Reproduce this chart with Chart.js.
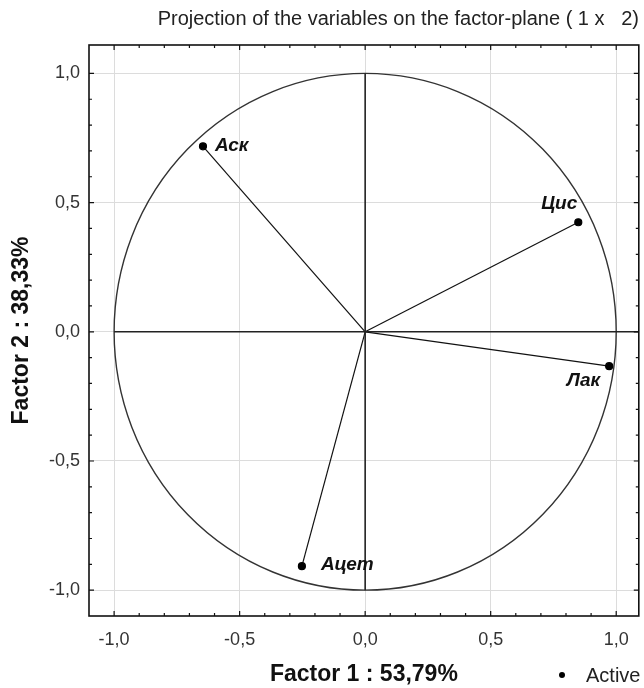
<!DOCTYPE html>
<html>
<head>
<meta charset="utf-8">
<script src="https://cdn.jsdelivr.net/npm/chart.js@4.4.1/dist/chart.umd.min.js"></script>
<style>
  body { margin: 0; background: #fff; }
  #wrap { width: 644px; height: 688px; }
</style>
</head>
<body>
<div id="wrap"><canvas id="plane"></canvas></div>
<script>
// variables projected on the factor plane (1 x 2)
var varNames = ['Цис', 'Лак', 'Ацет', 'Аск'];
var factor1 = [0.849, 0.972, -0.252, -0.646];
var factor2 = [0.424, -0.133, -0.907, 0.718];

var tickValues = [-1, -0.5, 0, 0.5, 1];
var tickLabels = ['-1,0', '-0,5', '0,0', '0,5', '1,0'];

var xMin = -1.1, xMax = 1.09;
var yMin = -1.1, yMax = 1.11;

// where each name sits relative to its point
var labelPlace = { 'Цис': 'above-left', 'Лак': 'below-left', 'Ацет': 'right', 'Аск': 'right' };

var datasets = [];
// the two axes through the origin
datasets.push({ data: [{ x: -1, y: 0 }, { x: xMax, y: 0 }], showLine: true, borderColor: '#222', borderWidth: 1.6, pointRadius: 0 });
datasets.push({ data: [{ x: 0, y: -1 }, { x: 0, y: 1 }], showLine: true, borderColor: '#222', borderWidth: 1.6, pointRadius: 0 });
// one ray per variable
for (var i = 0; i < varNames.length; i++) {
  datasets.push({
    label: varNames[i],
    data: [{ x: 0, y: 0 }, { x: factor1[i], y: factor2[i] }],
    showLine: true,
    borderColor: '#111',
    borderWidth: 1.2,
    pointRadius: [0, 3.5],
    pointBackgroundColor: '#000',
    pointBorderColor: '#000'
  });
}

function fmtTick(v) {
  var k = tickValues.indexOf(v);
  return k >= 0 ? tickLabels[k] : '';
}

var planePlugin = {
  id: 'plane',
  beforeDatasetsDraw: function (chart) {
    var ctx = chart.ctx, xs = chart.scales.x, ys = chart.scales.y;
    var cx = xs.getPixelForValue(0), cy = ys.getPixelForValue(0);
    var rx = xs.getPixelForValue(1) - cx, ry = cy - ys.getPixelForValue(1);
    ctx.save();
    ctx.strokeStyle = '#333';
    ctx.lineWidth = 1.4;
    ctx.beginPath();
    ctx.ellipse(cx, cy, rx, ry, 0, 0, Math.PI * 2);
    ctx.stroke();
    ctx.restore();
  },
  afterDatasetsDraw: function (chart) {
    var ctx = chart.ctx, xs = chart.scales.x, ys = chart.scales.y;
    var a = chart.chartArea;
    ctx.save();
    // frame
    ctx.strokeStyle = '#111';
    ctx.lineWidth = 1.6;
    ctx.strokeRect(a.left, a.top, a.right - a.left, a.bottom - a.top);
    // inward ticks every 0.1, longer at the labelled ones
    ctx.lineWidth = 1.2;
    ctx.beginPath();
    for (var k = -10; k <= 10; k++) {
      var v = k / 10;
      var len = (k % 5 === 0) ? 5 : 3;
      var px = xs.getPixelForValue(v);
      ctx.moveTo(px, a.top); ctx.lineTo(px, a.top + len);
      ctx.moveTo(px, a.bottom); ctx.lineTo(px, a.bottom - len);
      var py = ys.getPixelForValue(v);
      ctx.moveTo(a.left, py); ctx.lineTo(a.left + len, py);
      ctx.moveTo(a.right, py); ctx.lineTo(a.right - len, py);
    }
    ctx.stroke();
    // variable names
    ctx.fillStyle = '#111';
    ctx.font = 'italic bold 19px "Liberation Sans", Arial, sans-serif';
    ctx.textBaseline = 'middle';
    for (var i = 0; i < varNames.length; i++) {
      var x = xs.getPixelForValue(factor1[i]), y = ys.getPixelForValue(factor2[i]);
      var place = labelPlace[varNames[i]];
      if (place === 'right') {
        ctx.textAlign = 'left';
        ctx.fillText(varNames[i], x + (factor2[i] < 0 ? 19 : 12), y - 1);
      } else if (place === 'above-left') {
        ctx.textAlign = 'right';
        ctx.fillText(varNames[i], x - 1, y - 18);
      } else {
        ctx.textAlign = 'right';
        ctx.fillText(varNames[i], x - 9, y + 15);
      }
    }
    ctx.restore();
  },
  afterDraw: function (chart) {
    // legend marker bottom right
    var ctx = chart.ctx;
    ctx.save();
    ctx.fillStyle = '#000';
    ctx.beginPath();
    ctx.arc(562, 675, 3, 0, Math.PI * 2);
    ctx.fill();
    ctx.fillStyle = '#222';
    ctx.font = '20px "Liberation Sans", Arial, sans-serif';
    ctx.textAlign = 'left';
    ctx.textBaseline = 'middle';
    ctx.fillText('Active', 586, 676);
    ctx.restore();
  }
};

new Chart(document.getElementById('plane'), {
  type: 'scatter',
  data: { datasets: datasets },
  plugins: [planePlugin],
  options: {
    responsive: true,
    maintainAspectRatio: false,
    animation: false,
    layout: { padding: { left: 0, right: 5, top: 0, bottom: 0 } },
    plugins: {
      legend: { display: false },
      tooltip: { enabled: false },
      title: {
        display: true,
        text: 'Projection of the variables on the factor-plane ( 1 x   2)',
        align: 'end',
        color: '#222',
        font: { family: '"Liberation Sans", Arial, sans-serif', size: 20, weight: 'normal' },
        padding: { top: 7, bottom: 14 }
      }
    },
    scales: {
      x: {
        type: 'linear',
        min: xMin,
        max: xMax,
        afterBuildTicks: function (s) { s.ticks = tickValues.map(function (v) { return { value: v }; }); },
        afterFit: function (s) { s.height = 72; },
        grid: { color: '#dcdcdc', lineWidth: 1, drawTicks: false },
        border: { display: false },
        ticks: {
          padding: 13,
          color: '#333',
          font: { family: '"Liberation Sans", Arial, sans-serif', size: 18 },
          callback: fmtTick
        },
        title: {
          display: true,
          text: 'Factor 1 : 53,79%',
          color: '#111',
          font: { family: '"Liberation Sans", Arial, sans-serif', size: 23, weight: 'bold' },
          padding: { top: 0, bottom: 0 }
        }
      },
      y: {
        type: 'linear',
        min: yMin,
        max: yMax,
        afterBuildTicks: function (s) { s.ticks = tickValues.map(function (v) { return { value: v }; }); },
        afterFit: function (s) { s.width = 89; },
        grid: { color: '#dcdcdc', lineWidth: 1, drawTicks: false },
        border: { display: false },
        ticks: {
          padding: 9,
          color: '#333',
          font: { family: '"Liberation Sans", Arial, sans-serif', size: 18 },
          callback: fmtTick
        },
        title: {
          display: true,
          text: 'Factor 2 : 38,33%',
          color: '#111',
          font: { family: '"Liberation Sans", Arial, sans-serif', size: 23, weight: 'bold' },
          padding: { top: 8, bottom: 0 }
        }
      }
    }
  }
});
</script>
</body>
</html>
